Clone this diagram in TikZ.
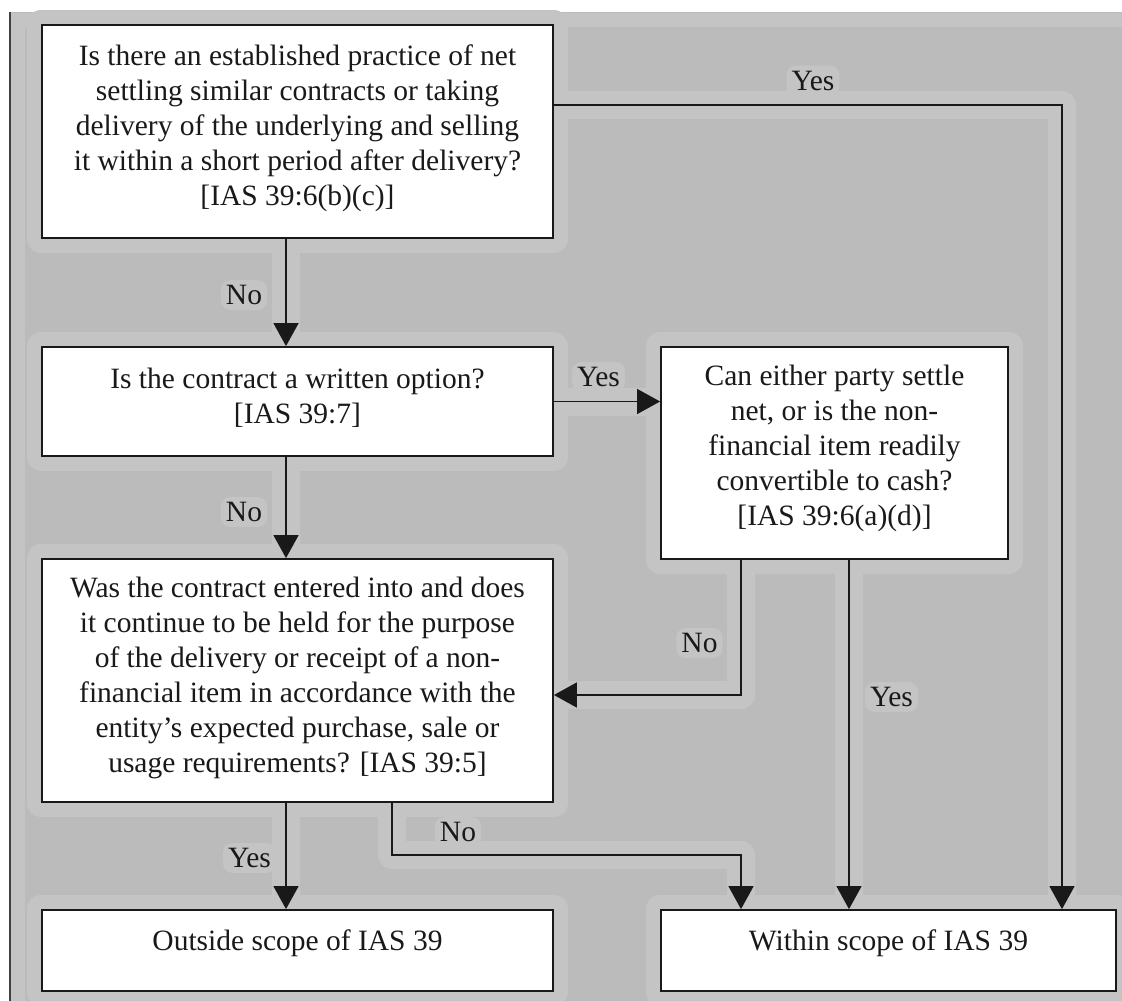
\documentclass[tikz,border=0pt]{standalone}
\usepackage{fontspec}
\setmainfont{Liberation Serif}
\usetikzlibrary{arrows.meta,backgrounds}
\definecolor{bggray}{RGB}{187,187,187}
\definecolor{halogray}{RGB}{196,196,196}
\definecolor{inkgray}{RGB}{25,25,25}
\tikzset{
  box/.style={rectangle, draw=black!90, line width=1.8pt, fill=white, inner sep=0pt},
  txt/.style={align=center, inner sep=0pt, text=inkgray},
  conn/.style={draw=black!90, line width=1.5pt},
  arr/.style={conn, -{Triangle[length=23pt,width=25pt]}},
  lbl/.style={fill=halogray, rounded corners=9pt, inner sep=5pt, text=inkgray},
  halo/.style={draw=halogray, line width=28pt, line join=round}
}
\begin{document}
\begin{tikzpicture}[x=1pt,y=-1pt,font=\fontsize{29.5}{35}\selectfont]
\useasboundingbox (0,0) rectangle (1122,1001);

% boxes
\node[box, minimum width=511pt, minimum height=213pt] (q1) at (297.5,131.5) {};
\node[box, minimum width=511pt, minimum height=109pt] (q2) at (297.5,401.5) {};
\node[box, minimum width=347pt, minimum height=212pt] (q3) at (834.5,453) {};
\node[box, minimum width=511pt, minimum height=243pt] (q4) at (297.5,680.5) {};
\node[box, minimum width=511pt, minimum height=81pt] (q5) at (297.5,950.5) {};
\node[box, minimum width=455pt, minimum height=81pt] (q6) at (888.5,950.5) {};

% texts
\node[txt] (t1) at (297.5,128) {Is there an established practice of net\\settling similar contracts or taking\\delivery of the underlying and selling\\it within a short period after delivery?\\{[IAS 39:6(b)(c)]}};
\node[txt] (t2) at (297.5,397.5) {Is the contract a written option?\\{[IAS 39:7]}};
\node[txt] (t3) at (834.5,448) {Can either party settle\\net, or is the non-\\financial item readily\\convertible to cash?\\{[IAS 39:6(a)(d)]}};
\node[txt] (t4) at (297.5,677.5) {Was the contract entered into and does\\it continue to be held for the purpose\\of the delivery or receipt of a non-\\financial item in accordance with the\\entity’s expected purchase, sale or\\usage requirements? [IAS 39:5]};
\node[txt] (t5) at (297.5,943) {Outside scope of IAS 39};
\node[txt] (t6) at (888.5,943) {Within scope of IAS 39};

% helper coordinates
\coordinate (xa) at (286,0);
\coordinate (xb) at (849,0);
\coordinate (k1) at (741,695);
\coordinate (k2) at (392,855);
\coordinate (k3) at (741,855);
\coordinate (k4) at (1062,105);

% connectors
\draw[arr] (q1.south -| xa) -- (q2.north -| xa);
\draw[arr] (q2.east) -- (q3.west |- q2.east);
\draw[arr] (q2.south -| xa) -- (q4.north -| xa);
\draw[arr] (q3.south -| k1) -- (k1) -- (q4.east |- k1);
\draw[arr] (q3.south -| xb) -- (q6.north -| xb);
\draw[arr] (q4.south -| xa) -- (q5.north -| xa);
\draw[arr] (q4.south -| k2) -- (k2) -- (k3) -- (q6.north -| k3);
\draw[arr] (q1.east |- k4) -- (k4) -- (q6.north -| k4);

% labels
\node[lbl] (l1) at (244,295) {No};
\node[lbl] (l2) at (244,512) {No};
\node[lbl] (l3) at (598.5,377) {Yes};
\node[lbl] (l4) at (699.5,643) {No};
\node[lbl] (l5) at (891.5,697) {Yes};
\node[lbl] (l6) at (249.5,858) {Yes};
\node[lbl] (l7) at (458,832) {No};
\node[lbl] (l8) at (813,80.5) {Yes};

\begin{scope}[on background layer]
  \fill[white] (0,0) rectangle (1122,1001);
  \fill[bggray] (10,12) rectangle (1122,1001);
  \draw[halogray, line width=14pt] (18,1001) -- (18,20) -- (1122,20);
  \draw[black!75, line width=2pt] (10,12) -- (10,1001);
  \foreach \n in {q1,q2,q3,q4,q5,q6}
    \draw[halo] (\n.north west) rectangle (\n.south east);
  \draw[halo] (q1.south -| xa) -- (q2.north -| xa);
  \draw[halo] (q2.east) -- (q3.west |- q2.east);
  \draw[halo] (q2.south -| xa) -- (q4.north -| xa);
  \draw[halo] (q3.south -| k1) -- (k1) -- (q4.east |- k1);
  \draw[halo] (q3.south -| xb) -- (q6.north -| xb);
  \draw[halo] (q4.south -| xa) -- (q5.north -| xa);
  \draw[halo] (q4.south -| k2) -- (k2) -- (k3) -- (q6.north -| k3);
  \draw[halo] (q1.east |- k4) -- (k4) -- (q6.north -| k4);
\end{scope}
\end{tikzpicture}
\end{document}
